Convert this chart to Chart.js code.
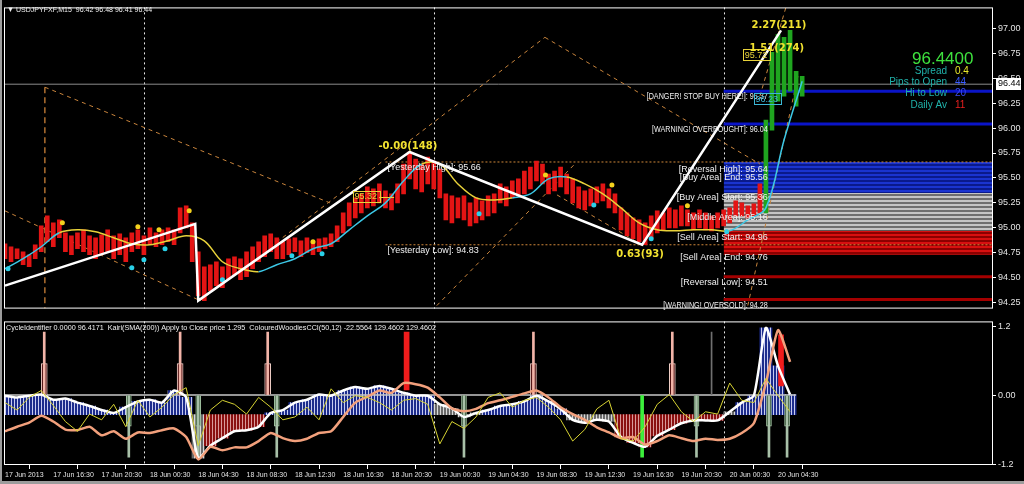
<!DOCTYPE html>
<html>
<head>
<meta charset="utf-8">
<script src="https://cdn.jsdelivr.net/npm/chart.js@4.4.1/dist/chart.umd.min.js"></script>
<style>
  html, body { margin: 0; padding: 0; background: #000; width: 1024px; height: 484px; overflow: hidden; }
  #wrap { position: relative; width: 1024px; height: 484px; background: #000; }
  #top { position: absolute; left: 0; top: 0; }
  #bot { position: absolute; left: 0; top: 314px; }
  #wrap:after { content: ''; position: absolute; left: 0; top: 0; right: 0; bottom: 0;
                border-left: 2px solid #9c9c9c; border-bottom: 3px solid #9c9c9c; pointer-events: none; }
</style>
</head>
<body>
<div id="wrap">
  <canvas id="top" width="1024" height="316"></canvas>
  <canvas id="bot" width="1024" height="170"></canvas>
</div>
<script>
/* ===================================================================
   USDJPY M15 — MetaTrader style chart (price panel + oscillator panel)
   =================================================================== */

/* ── 시간축 (bar index = M15 bar number from 17 Jun 12:30) ───────── */
const timeTickIdx = [0, 16, 32, 48, 64, 80, 96, 112, 128, 144, 160, 176, 192, 208, 224, 240, 256];
const timeLabels  = ['17 Jun 2013', '17 Jun 16:30', '17 Jun 20:30', '18 Jun 00:30', '18 Jun 04:30',
                     '18 Jun 08:30', '18 Jun 12:30', '18 Jun 16:30', '18 Jun 20:30', '19 Jun 00:30',
                     '19 Jun 04:30', '19 Jun 08:30', '19 Jun 12:30', '19 Jun 16:30', '19 Jun 20:30',
                     '20 Jun 00:30', '20 Jun 04:30'];
const daySeparators = [46, 142, 238];
const priceTicks = [94.25, 94.50, 94.75, 95.00, 95.25, 95.50, 95.75, 96.00, 96.25, 96.50, 96.75, 97.00];
const oscTicks   = [-1.2, 0, 1.2];

/* ── 캔들 (one entry every 2 bars) ──────────────────────────────── */
const candleHigh = [
  94.84, 94.81, 94.79, 94.76, 94.73, 94.83, 95.02, 95.12, 95.05, 95.08,
  94.95, 94.92, 94.95, 94.98, 94.92, 94.90, 94.93, 94.98, 94.92, 94.94,
  94.90, 94.95, 94.98, 94.92, 95.00, 94.95, 94.98, 95.00, 94.98, 95.20,
  95.22, 95.05, 94.76, 94.61, 94.63, 94.66, 94.61, 94.69, 94.71, 94.69,
  94.76, 94.81, 94.86, 94.92, 94.94, 94.90, 94.86, 94.89, 94.90, 94.87,
  94.90, 94.86, 94.89, 94.90, 94.94, 95.02, 95.15, 95.25, 95.30, 95.34,
  95.41, 95.39, 95.44, 95.37, 95.34, 95.44, 95.64, 95.76, 95.69, 95.64,
  95.71, 95.67, 95.59, 95.34, 95.32, 95.30, 95.32, 95.25, 95.30, 95.27,
  95.32, 95.34, 95.44, 95.41, 95.47, 95.49, 95.57, 95.61, 95.67, 95.64,
  95.54, 95.57, 95.61, 95.54, 95.49, 95.41, 95.37, 95.39, 95.41, 95.44,
  95.39, 95.34, 95.20, 95.15, 95.10, 95.08, 95.05, 95.12, 95.17, 95.15,
  95.20, 95.18, 95.22, 95.18, 95.15, 95.18, 95.15, 95.12, 95.15, 95.18,
  95.20, 95.27, 95.25, 95.22, 95.24, 95.44, 96.08, 96.76, 96.94, 96.91,
  96.98, 96.57, 96.52
];
const candleLow = [
  94.69, 94.66, 94.69, 94.63, 94.61, 94.69, 94.76, 94.86, 94.81, 94.90,
  94.76, 94.73, 94.79, 94.76, 94.73, 94.69, 94.73, 94.76, 94.69, 94.73,
  94.66, 94.76, 94.79, 94.73, 94.83, 94.81, 94.83, 94.86, 94.83, 94.95,
  95.00, 94.66, 94.32, 94.27, 94.37, 94.42, 94.40, 94.49, 94.53, 94.48,
  94.51, 94.59, 94.66, 94.71, 94.76, 94.69, 94.69, 94.73, 94.76, 94.71,
  94.75, 94.73, 94.76, 94.79, 94.81, 94.86, 94.95, 95.02, 95.10, 95.15,
  95.20, 95.22, 95.25, 95.20, 95.18, 95.25, 95.34, 95.49, 95.39, 95.36,
  95.44, 95.39, 95.30, 95.08, 95.05, 95.10, 95.08, 95.02, 95.05, 95.08,
  95.12, 95.15, 95.25, 95.22, 95.30, 95.32, 95.34, 95.39, 95.47, 95.44,
  95.34, 95.37, 95.41, 95.34, 95.25, 95.20, 95.18, 95.22, 95.25, 95.27,
  95.20, 95.15, 94.98, 94.92, 94.89, 94.86, 94.83, 94.90, 94.95, 94.98,
  95.00, 95.00, 95.02, 95.02, 94.98, 95.00, 94.98, 94.97, 95.00, 95.02,
  95.05, 95.12, 95.12, 95.10, 95.12, 95.15, 95.15, 95.98, 96.27, 96.32,
  96.37, 96.22, 96.32
];
const candleStep = 2;
const greenFrom  = 252;   // bars coloured green from this bar index on

/* ── 이동평균 (one value every 6 bars, 1 = up/cyan, -1 = down/yellow) ── */
const maStep  = 6;
const maValue = [
  94.59, 94.69, 94.81, 94.95, 94.98, 94.96, 94.90, 94.84, 94.83, 94.87,
  94.92, 94.87, 94.66, 94.59, 94.56, 94.63, 94.69, 94.79, 94.84, 94.98,
  95.12, 95.25, 95.47, 95.64, 95.64, 95.44, 95.30, 95.28, 95.30, 95.34,
  95.49, 95.51, 95.44, 95.34, 95.20, 95.05, 94.98, 94.97, 94.98, 94.98,
  94.97, 95.08, 95.20, 95.88, 96.47
];
const maTrend = [
   1,  1,  1,  1, -1, -1, -1, -1, -1, -1,
  -1, -1, -1, -1, -1,  1,  1,  1,  1,  1,
   1,  1,  1,  1, -1, -1, -1, -1, -1,  1,
   1,  1, -1, -1, -1, -1, -1, -1, -1, -1,
  -1,  1,  1,  1,  1
];

/* ── 신호 점 ─────────────────────────────────────────────────────── */
const dotHighIdx   = [19, 44, 51, 61, 102, 179, 201, 226];
const dotHighPrice = [95.05, 95.01, 94.98, 95.17, 94.86, 95.53, 95.43, 95.22];
const dotLowIdx    = [1, 42, 46, 53, 72, 95, 105, 157, 195, 214, 239];
const dotLowPrice  = [94.59, 94.60, 94.68, 94.79, 94.48, 94.72, 94.74, 95.14, 95.23, 94.89, 94.96];

/* ── 지그재그 ───────────────────────────────────────────────────── */
const zigIdx   = [0, 63, 64, 134, 211, 257];
const zigPrice = [94.42, 95.04, 94.27, 95.76, 94.83, 96.98];
const zigText      = ['-0.00(148)', '0.63(93)', '2.27(211)', '1.51(274)', '7837598.78(2147483648)'];
const zigTextIdx   = [133.4, 210.3, 256.3, 255.6, 67.9];
const zigTextPrice = [95.82, 94.73, 97.03, 96.80, 94.13];

/* ── 채널 점선 ──────────────────────────────────────────────────── */
const chanX0 = [13.2, 0, 64.6, 178.8, 143, 182.8, 246, 250, 13.2];
const chanP0 = [96.41, 95.17, 94.27, 96.91, 94.22, 95.33, 94.22, 96.32, 96.41];
const chanX1 = [107.6, 64.6, 178.8, 250, 188.7, 212, 262.6, 259, 13.2];
const chanP1 = [95.25, 94.27, 96.91, 95.64, 95.64, 94.81, 96.52, 97.25, 94.19];

/* ── 일별 레벨 ──────────────────────────────────────────────────── */
const zoneStart  = 238;
const levelNames = ['[DANGER! STOP BUY HERE!]', '[WARNING! OVERBOUGHT]', '[Reversal High]', '[Buy Area] End',
                    '[Buy Area] Start', '[Middle Area]', '[Sell Area] Start', '[Sell Area] End',
                    '[Reversal Low]', '[WARNING! OVERSOLD]'];
const levelPrices = [96.37, 96.04, 95.64, 95.56, 95.36, 95.16, 94.96, 94.76, 94.51, 94.28];
const bandTop     = [95.66, 95.35, 94.97];
const bandBottom  = [95.35, 94.97, 94.73];
const yesterdayNames  = ['[Yesterday High]', '[Yesterday Low]'];
const yesterdayPrices = [95.66, 94.83];
const yesterdayFrom   = 126;
const currentPrice = 96.44;

const priceBoxText  = ['95.32', '95.72', '96.23'];
const priceBoxIdx   = [119.5, 248.7, 252.3];
const priceBoxPrice = [95.31, 96.73, 96.29];

/* ── 하단 오실레이터 (one value every 4 bars) ──────────────────── */
const oscStep = 4;
const woodiesLine = [
  -0.01, -0.04, -0.01,  0.01, -0.08, -0.06, -0.13, -0.19, -0.26, -0.31,
  -0.21, -0.11, -0.08, -0.13,  0.08, -0.04, -1.10, -0.88, -0.75, -0.63,
  -0.61, -0.55, -0.31, -0.26, -0.13, -0.08,  0.01, -0.01,  0.08,  0.14,
   0.11,  0.16,  0.11,  0.04, -0.01, -0.01, -0.16, -0.23, -0.38, -0.31,
  -0.26, -0.19, -0.16, -0.11, -0.01, -0.11, -0.24, -0.43, -0.48, -0.43,
  -0.46, -0.73, -0.83, -0.90, -0.71, -0.60, -0.49, -0.44, -0.44, -0.44,
  -0.29, -0.13, -0.01,  1.17,  0.51,  0.01
];
const woodiesState = [
   1,  1,  1,  1,  1,  1,  1,  1,  1,  1,
   1,  1,  1,  1,  1,  1,  0, -1, -1, -1,
  -1, -1,  1,  1,  1,  1,  1,  1,  1,  1,
   1,  1,  1,  1,  1,  1,  0,  0,  0,  0,
   1,  1,  1,  1,  1,  1,  1,  0,  0,  0,
   0, -1, -1, -1, -1, -1, -1, -1, -1, -1,
   0,  1,  1,  1,  1,  1
];
const woodiesBase = -0.34;
const kairiLine = [
  -0.63, -0.55, -0.48, -0.36, -0.46, -0.60, -0.61, -0.55, -0.70, -0.63,
  -0.76, -0.65, -0.66, -0.61, -0.58, -0.73, -1.12, -0.90, -0.96, -0.91,
  -0.91, -0.80, -0.66, -0.75, -0.80, -0.76, -0.66, -0.63, -0.38, -0.13,
  -0.03,  0.08,  0.04,  0.21,  0.19,  0.13, -0.04, -0.23, -0.28, -0.24,
  -0.14, -0.09, -0.03,  0.03,  0.08, -0.04, -0.21, -0.33, -0.43, -0.56,
  -0.65, -0.75, -0.73, -0.86, -0.80, -0.70, -0.75, -0.80, -0.76, -0.78,
  -0.76, -0.66, -0.49,  0.21,  1.13,  0.58
];
const cycleLine = [
  -0.13, -0.26, -0.04,  0.08, -0.18, -0.46, -0.63, -0.33, -0.43, -0.16,
  -0.55, -0.09, -0.38, -0.21,  0.01,  0.13, -0.88, -0.26, -0.09, -0.16,
  -0.33, -0.04, -0.21, -0.43, -0.38, -0.21, -0.43,  0.11, -0.13, -0.01,
  -0.04, -0.13, -0.26, -0.09, -0.06, -0.16, -0.85, -0.46, -0.58, -0.38,
  -0.04,  0.04, -0.21, -0.09, -0.04, -0.21, -0.43, -0.80, -0.60, -0.24,
  -0.09, -0.76, -0.80, -0.55, -0.16,  0.01, -0.29, -0.46, -0.29, -0.33,
   0.21, -0.09, -0.13,  0.29, -0.01, -0.29
];
const cycleLevelIdx = [0, 262];
const cycleLevel    = [0, 0];
const peakIdx    = [13, 58, 87, 175, 221];
const peakTop    = 1.10;
const troughIdx  = [41, 64, 90, 152, 229, 253, 259];
const troughLow  = -1.08;
const signalIdx  = [211];
const faintIdx   = [234];
const redIdx     = [133, 257];
const redLow     = [0.09, 0.16];
const redHigh    = [1.10, 1.05];

/* ── 공통 ───────────────────────────────────────────────────────── */
const X_MIN = -0.33, X_MAX = 327.2;
const LBF = "'Liberation Sans',Arial,sans-serif";
const C = {
  red: '#e31414', green: '#1fa51f', cyan: '#3cc8e6', yellow: '#e8d23a', orange: '#c8843c',
  white: '#ffffff', blue: '#0a14c8', darkRed: '#a40000', gray: '#8a8a8a', teal: '#20b2aa',
};

const topCtx = document.getElementById('top').getContext('2d');
const botCtx = document.getElementById('bot').getContext('2d');

function hStripes(ctx, a, b, ha, hb) {
  const c = document.createElement('canvas'); c.width = 4; c.height = ha + hb;
  const g = c.getContext('2d');
  g.fillStyle = a; g.fillRect(0, 0, 4, ha);
  g.fillStyle = b; g.fillRect(0, ha, 4, hb);
  return ctx.createPattern(c, 'repeat');
}
function vStripes(ctx, a, b) {
  const c = document.createElement('canvas'); c.width = 3; c.height = 4;
  const g = c.getContext('2d');
  g.fillStyle = a; g.fillRect(0, 0, 2, 4);
  g.fillStyle = b; g.fillRect(2, 0, 1, 4);
  return ctx.createPattern(c, 'repeat');
}
function seg(x0, y0, x1, y1) { return [{ x: x0, y: y0 }, { x: x1, y: y1 }]; }
// sx < 1 squeezes the glyphs horizontally (terminal font is narrower than Arial)
function text(ctx, s, x, y, color, font, align = 'left', base = 'middle', sx = 1) {
  ctx.save();
  ctx.fillStyle = color; ctx.font = font; ctx.textAlign = align; ctx.textBaseline = base;
  ctx.translate(x, y); ctx.scale(sx, 1);
  ctx.fillText(s, 0, 0);
  ctx.restore();
}
function drawFrame(chart) {
  const { ctx, chartArea: a } = chart;
  ctx.save();
  ctx.strokeStyle = '#ffffff'; ctx.lineWidth = 1;
  ctx.strokeRect(a.left + 0.5, a.top + 0.5, a.right - a.left - 1, a.bottom - a.top - 1);
  ctx.restore();
}
function drawSeparators(chart) {
  const { ctx, chartArea: a, scales: { x } } = chart;
  ctx.save();
  ctx.strokeStyle = '#e8e8e8'; ctx.lineWidth = 1; ctx.setLineDash([2, 3]);
  daySeparators.forEach(i => {
    const px = Math.round(x.getPixelForValue(i)) + 0.5;
    ctx.beginPath(); ctx.moveTo(px, a.top); ctx.lineTo(px, a.bottom); ctx.stroke();
  });
  ctx.restore();
}

/* ── 상단 차트 ──────────────────────────────────────────────────── */
const bandFills = [
  hStripes(topCtx, '#0a1a8c', '#1a34d0', 2, 2),
  hStripes(topCtx, '#c4c4c4', '#6e6e6e', 2, 2),
  hStripes(topCtx, '#8c0000', '#d81010', 2, 2),
];
const topSets = [];

bandTop.forEach((t, n) => topSets.push({
  type: 'line', data: seg(zoneStart, t, X_MAX, t), borderWidth: 0, pointRadius: 0,
  fill: { value: bandBottom[n] }, backgroundColor: bandFills[n], order: 100,
}));
[0, 1, 8, 9].forEach(n => topSets.push({
  type: 'line', data: seg(zoneStart, levelPrices[n], X_MAX, levelPrices[n]),
  borderColor: n < 2 ? C.blue : C.darkRed, borderWidth: 3, pointRadius: 0, order: 95,
}));
yesterdayPrices.forEach(p => topSets.push({
  type: 'line', data: seg(yesterdayFrom, p, X_MAX, p),
  borderColor: '#d0883a', borderWidth: 1, borderDash: [2, 2], pointRadius: 0, order: 92,
}));
topSets.push({
  type: 'line', data: seg(X_MIN, currentPrice, X_MAX, currentPrice),
  borderColor: '#8c8c8c', borderWidth: 1, pointRadius: 0, order: 91,
});
chanX0.forEach((x0, n) => topSets.push({
  type: 'line', data: seg(x0, chanP0[n], chanX1[n], chanP1[n]),
  borderColor: n === 8 ? '#b07030' : C.orange, borderWidth: n === 8 ? 1.5 : 1,
  borderDash: n === 8 ? [6, 4] : [4, 4], pointRadius: 0, order: 90,
}));
topSets.push({
  type: 'bar', grouped: false, order: 50, barThickness: 4,
  data: candleHigh.map((h, k) => ({ x: k * candleStep, y: [candleLow[k], h] })),
  backgroundColor: c => (c.dataIndex * candleStep >= greenFrom ? C.green : C.red),
  borderWidth: 0,
});
topSets.push({
  type: 'line', order: 40, borderWidth: 1.5, pointRadius: 0, tension: 0.35,
  data: maValue.map((v, k) => ({ x: k * maStep, y: v })),
  borderColor: C.cyan,
  segment: { borderColor: c => (maTrend[c.p1DataIndex] > 0 ? C.cyan : C.yellow) },
});
topSets.push({
  type: 'line', order: 30, showLine: false, pointRadius: 2.5, pointBorderWidth: 0,
  pointBackgroundColor: '#f4d21e', data: dotHighIdx.map((i, k) => ({ x: i, y: dotHighPrice[k] })),
});
topSets.push({
  type: 'line', order: 30, showLine: false, pointRadius: 2.5, pointBorderWidth: 0,
  pointBackgroundColor: '#2ad0e8', data: dotLowIdx.map((i, k) => ({ x: i, y: dotLowPrice[k] })),
});
topSets.push({
  type: 'line', order: 20, borderColor: C.white, borderWidth: 2.5, pointRadius: 0,
  data: zigIdx.map((i, k) => ({ x: i, y: zigPrice[k] })),
});

const topOverlay = {
  id: 'topOverlay',
  beforeDatasetsDraw: drawSeparators,
  afterDatasetsDraw(chart) {
    const { ctx, chartArea: a, scales: { x, y } } = chart;
    ctx.save();
    // yesterday labels
    yesterdayNames.forEach((n, k) => text(ctx, `${n}: ${yesterdayPrices[k].toFixed(2)}`,
      x.getPixelForValue(yesterdayFrom) + 2, y.getPixelForValue(yesterdayPrices[k]) + 1, '#f0f0f0', `9px ${LBF}`, 'left', 'top'));
    // zone labels (all-caps ones are squeezed, like the terminal font)
    levelNames.forEach((n, k) => {
      const caps = n === n.toUpperCase();
      text(ctx, `${n}: ${levelPrices[k].toFixed(2)}`, x.getPixelForValue(252.6), y.getPixelForValue(levelPrices[k]) + 1,
        '#f0f0f0', `9px ${LBF}`, 'right', 'top', caps ? 0.8 : 1);
    });
    // price boxes
    priceBoxText.forEach((s, k) => {
      const px = x.getPixelForValue(priceBoxIdx[k]), py = y.getPixelForValue(priceBoxPrice[k]);
      const col = k === 2 ? '#3cb8d8' : '#e8d23a';
      ctx.font = `9px ${LBF}`;
      const w = ctx.measureText(s).width + 4;
      ctx.strokeStyle = col; ctx.lineWidth = 1;
      ctx.strokeRect(Math.round(px - w / 2) + 0.5, Math.round(py - 6) + 0.5, Math.round(w), 11);
      text(ctx, s, px, py, col, `9px ${LBF}`, 'center');
      if (k === 0) {
        ctx.strokeStyle = col; ctx.beginPath();
        ctx.moveTo(px + w / 2, Math.round(py) + 0.5); ctx.lineTo(px + w / 2 + 15, Math.round(py) + 0.5); ctx.stroke();
      }
    });
    // zigzag labels (clipped to the panel)
    ctx.beginPath(); ctx.rect(a.left, a.top, a.right - a.left, a.bottom - a.top); ctx.clip();
    zigText.forEach((s, k) => text(ctx, s, x.getPixelForValue(zigTextIdx[k]), y.getPixelForValue(zigTextPrice[k]),
      '#f2e230', `bold 10px 'DejaVu Sans',sans-serif`, 'center'));
    ctx.restore();
  },
  afterDraw(chart) {
    const { ctx, chartArea: a, scales: { y } } = chart;
    drawFrame(chart);
    ctx.save();
    text(ctx, '\u25BC USDJPYFXF,M15  96.42 96.48 96.41 96.44', a.left + 3, 10, '#f0f0f0', `8px ${LBF}`, 'left', 'middle', 0.88);
    // info panel
    text(ctx, '96.4400', 912, 59, '#3ee23e', `17px ${LBF}`);
    const infoL = ['Spread', 'Pips to Open', 'Hi to Low', 'Daily Av'];
    const infoV = ['0.4', '44', '20', '11'];
    const infoC = ['#e8e82a', '#3a5cff', '#3a4cf0', '#e82020'];
    const infoY = [71, 82, 93, 105];
    infoL.forEach((s, k) => {
      text(ctx, s, 947, infoY[k], C.teal, `10px ${LBF}`, 'right');
      text(ctx, infoV[k], 955, infoY[k], infoC[k], `10px ${LBF}`);
    });
    // current price tag on the axis
    const py = Math.round(y.getPixelForValue(currentPrice));
    ctx.fillStyle = '#ffffff'; ctx.fillRect(a.right + 3, py - 6, 25, 12);
    text(ctx, currentPrice.toFixed(2), a.right + 5, py, '#000000', `9px ${LBF}`);
    ctx.restore();
  },
};

new Chart(topCtx, {
  type: 'bar',
  data: { datasets: topSets },
  options: {
    responsive: false, animation: false, events: [],
    layout: { padding: { left: 4, top: 4, right: 0, bottom: 3 } },
    plugins: { legend: { display: false }, tooltip: { enabled: false } },
    scales: {
      x: { type: 'linear', min: X_MIN, max: X_MAX, display: false, offset: false },
      y: {
        position: 'right', min: 94.19, max: 97.21,
        afterFit: s => { s.width = 31; },
        afterBuildTicks: s => { s.ticks = priceTicks.map(v => ({ value: v })); },
        ticks: { color: '#e4e4e4', font: { family: LBF, size: 9 }, padding: 2, callback: v => v.toFixed(2) },
        grid: { display: true, drawOnChartArea: false, tickLength: 3, color: '#ffffff' },
        border: { display: false },
      },
    },
  },
  plugins: [topOverlay],
});

/* ── 하단 차트 ──────────────────────────────────────────────────── */
const histFill = {
  '1':  vStripes(botCtx, '#1c2c8c', '#c8ccf0'),
  '0':  vStripes(botCtx, '#6a6a6a', '#d8d8d8'),
  '-1': vStripes(botCtx, '#8a1010', '#d89a9a'),
};
const botSets = [
  {
    type: 'bar', grouped: false, order: 100, barThickness: 12.2, borderWidth: 0,
    data: woodiesLine.map((v, k) => ({ x: k * oscStep, y: [woodiesBase, v] })),
    backgroundColor: c => histFill[String(woodiesState[c.dataIndex])],
  },
  {
    type: 'line', order: 90, borderColor: '#c8c8c8', borderWidth: 1.5, pointRadius: 0,
    data: cycleLevelIdx.map((i, k) => ({ x: i, y: cycleLevel[k] })),
  },
  {
    type: 'bar', grouped: false, order: 80, barThickness: 6, borderWidth: 1, borderColor: '#f0d0c8',
    backgroundColor: '#4a0c0c', data: peakIdx.map(i => ({ x: i, y: [0, peakTop / 2] })),
  },
  {
    type: 'bar', grouped: false, order: 79, barThickness: 2, borderWidth: 0,
    backgroundColor: '#f2b4a8', data: peakIdx.map(i => ({ x: i, y: [0, peakTop] })),
  },
  {
    type: 'bar', grouped: false, order: 80, barThickness: 5, borderWidth: 1, borderColor: '#a8c8a8',
    backgroundColor: '#143414', data: troughIdx.map(i => ({ x: i, y: [troughLow / 2, 0] })),
  },
  {
    type: 'bar', grouped: false, order: 79, barThickness: 2, borderWidth: 0,
    backgroundColor: '#a8c0a8', data: troughIdx.map(i => ({ x: i, y: [troughLow, 0] })),
  },
  {
    type: 'bar', grouped: false, order: 78, barThickness: 3, borderWidth: 0,
    backgroundColor: '#3cf03c', data: signalIdx.map(i => ({ x: i, y: [troughLow, 0] })),
  },
  {
    type: 'bar', grouped: false, order: 78, barThickness: 1, borderWidth: 0,
    backgroundColor: '#707070', data: faintIdx.map(i => ({ x: i, y: [0, peakTop] })),
  },
  {
    type: 'bar', grouped: false, order: 78, barThickness: 5, borderWidth: 0,
    backgroundColor: '#f01c1c', data: redIdx.map((i, k) => ({ x: i, y: [redLow[k], redHigh[k]] })),
  },
  {
    type: 'line', order: 40, borderColor: '#ffffff', borderWidth: 2.5, pointRadius: 0, tension: 0.2,
    data: woodiesLine.map((v, k) => ({ x: k * oscStep, y: v })),
  },
  {
    type: 'line', order: 30, borderColor: '#f2a07c', borderWidth: 2.5, pointRadius: 0, tension: 0.2,
    data: kairiLine.map((v, k) => ({ x: k * oscStep, y: v })),
  },
  {
    type: 'line', order: 20, borderColor: '#d6d232', borderWidth: 1, pointRadius: 0, tension: 0,
    data: cycleLine.map((v, k) => ({ x: k * oscStep, y: v })),
  },
];

const botOverlay = {
  id: 'botOverlay',
  beforeDatasetsDraw: drawSeparators,
  afterDraw(chart) {
    const { ctx, chartArea: a } = chart;
    drawFrame(chart);
    ctx.save();
    text(ctx, 'CycleIdentifier 0.0000 96.4171  Kairi(SMA(200)) Apply to Close price 1.295  ColouredWoodiesCCI(50,12) -22.5564 129.4602 129.4602',
      a.left + 2, a.top + 6, '#f0f0f0', `8px ${LBF}`, 'left', 'middle', 0.9);
    ctx.restore();
  },
};

new Chart(botCtx, {
  type: 'bar',
  data: { datasets: botSets },
  options: {
    responsive: false, animation: false, events: [],
    layout: { padding: { left: 4, top: 2, right: 0, bottom: 2 } },
    plugins: { legend: { display: false }, tooltip: { enabled: false } },
    scales: {
      x: {
        type: 'linear', min: X_MIN, max: X_MAX, offset: false,
        afterFit: s => { s.height = 17; },
        afterBuildTicks: s => { s.ticks = timeTickIdx.map(v => ({ value: v })); },
        ticks: {
          color: '#e4e4e4', font: { family: LBF, size: 7 }, autoSkip: false, maxRotation: 0,
          align: 'start', padding: 2, callback: v => timeLabels[timeTickIdx.indexOf(v)],
        },
        grid: { display: true, drawOnChartArea: false, tickLength: 4, color: '#ffffff' },
        border: { display: false },
      },
      y: {
        position: 'right', min: -1.217, max: 1.284,
        afterFit: s => { s.width = 31; },
        afterBuildTicks: s => { s.ticks = oscTicks.map(v => ({ value: v })); },
        ticks: { color: '#e4e4e4', font: { family: LBF, size: 9 }, padding: 2,
                 callback: v => (v === 0 ? '0.00' : v.toFixed(1)) },
        grid: { display: true, drawOnChartArea: false, tickLength: 3, color: '#ffffff' },
        border: { display: false },
      },
    },
  },
  plugins: [botOverlay],
});
</script>
</body>
</html>
